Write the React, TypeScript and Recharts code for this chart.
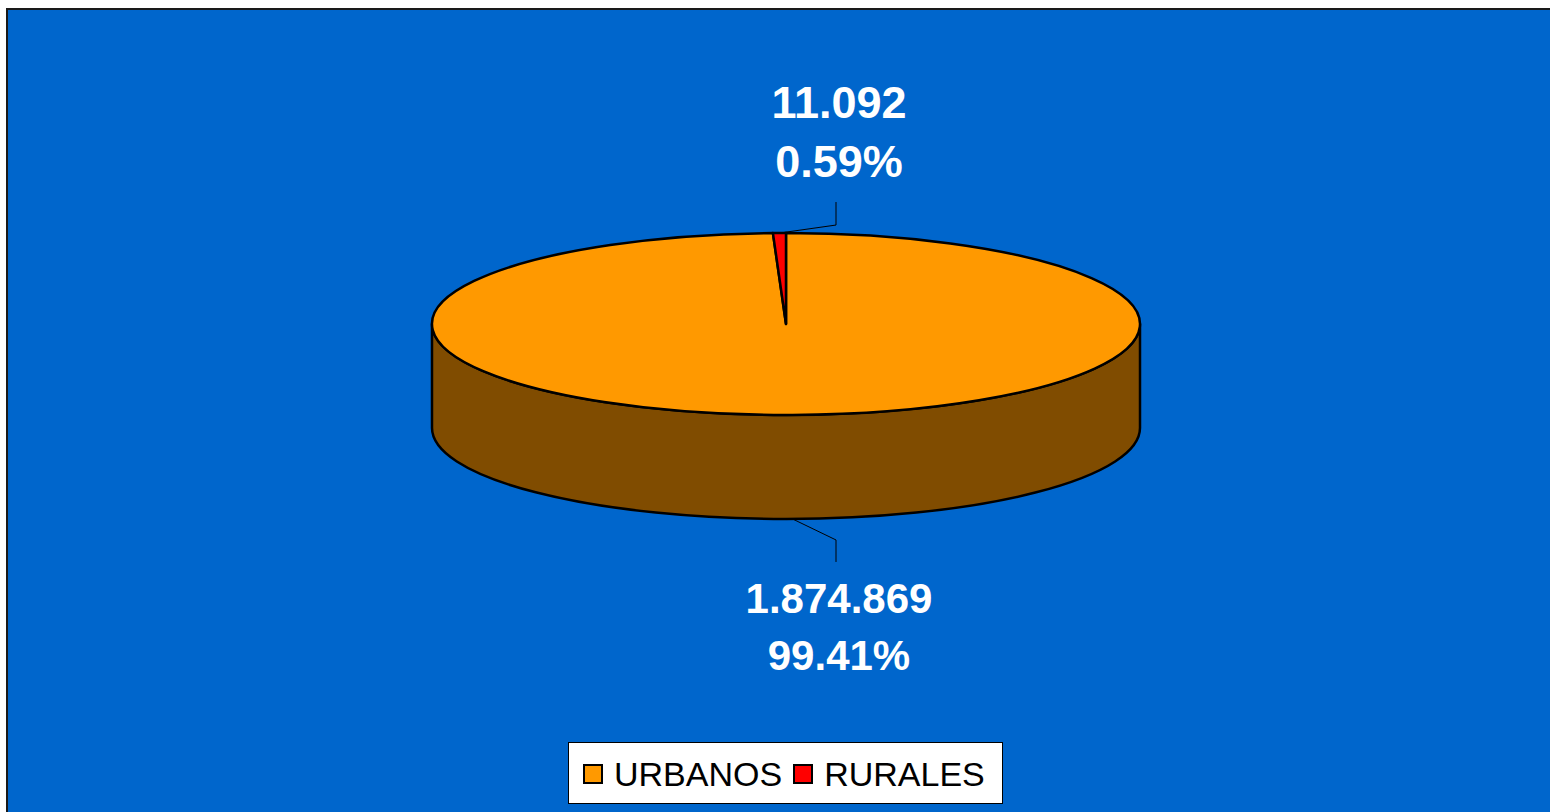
import { PieChart, Pie, Legend } from "recharts"

// ---------------------------------------------------------------------------
// Data
// ---------------------------------------------------------------------------

const categories = ["URBANOS", "RURALES"]
const values = [1874869, 11092]
const colors = ["#FF9900", "#FF0000"]
const sideColors = ["#804C00", "#800000"]

const data = categories.map((name, i) => ({ name, value: values[i] }))
const total = values.reduce((a, b) => a + b, 0)

// ---------------------------------------------------------------------------
// Layout
// ---------------------------------------------------------------------------

const W = 1544
const H = 802
const CX = 778
const CY = 314
const RADIUS = 354
const TILT = 0.257 // vertical squash of the pie top
const DEPTH = 104 // height of the pie wall
const FONT = '"Liberation Sans", Arial, sans-serif'
const RAD = Math.PI / 180

// ---------------------------------------------------------------------------
// Helpers
// ---------------------------------------------------------------------------

function fmt(n: number) {
  return String(n).replace(/\B(?=(\d{3})+(?!\d))/g, ".")
}

function pt(cx: number, cy: number, rx: number, ry: number, angle: number) {
  return { x: cx + rx * Math.cos(-angle * RAD), y: cy + ry * Math.sin(-angle * RAD) }
}

function topPath(cx: number, cy: number, rx: number, ry: number, a0: number, a1: number) {
  const p0 = pt(cx, cy, rx, ry, a0)
  const p1 = pt(cx, cy, rx, ry, a1)
  const large = Math.abs(a1 - a0) > 180 ? 1 : 0
  const sweep = a1 < a0 ? 1 : 0
  return `M${cx},${cy} L${p0.x},${p0.y} A${rx},${ry} 0 ${large} ${sweep} ${p1.x},${p1.y} Z`
}

// parts of the slice that face the viewer (lower half of the ellipse)
function frontRanges(a0: number, a1: number) {
  const lo = Math.min(a0, a1)
  const hi = Math.max(a0, a1)
  const out: [number, number][] = []
  for (let k = -2; k <= 2; k++) {
    const s = Math.max(lo, -180 + 360 * k)
    const e = Math.min(hi, 360 * k)
    if (e > s) out.push([s, e])
  }
  return out
}

function sidePath(cx: number, cy: number, rx: number, ry: number, s: number, e: number) {
  const t0 = pt(cx, cy, rx, ry, e)
  const t1 = pt(cx, cy, rx, ry, s)
  const b0 = pt(cx, cy + DEPTH, rx, ry, s)
  const b1 = pt(cx, cy + DEPTH, rx, ry, e)
  return `M${t0.x},${t0.y} A${rx},${ry} 0 0 1 ${t1.x},${t1.y} L${b0.x},${b0.y} A${rx},${ry} 0 0 0 ${b1.x},${b1.y} Z`
}

// ---------------------------------------------------------------------------
// Slice + label drawing (angles come from the Pie layout)
// ---------------------------------------------------------------------------

function renderSlice(props: any) {
  const { cx, cy, outerRadius, startAngle, endAngle, midAngle, index, value } = props
  const rx = outerRadius
  const ry = outerRadius * TILT
  const sides = frontRanges(startAngle, endAngle)

  const front = Math.sin(-midAngle * RAD) > 0
  const a = pt(cx, cy + (front ? DEPTH : 0), rx, ry, midAngle)
  const elbowX = cx + 50
  const elbowY = front ? a.y + 21 : a.y - 8
  const endY = front ? elbowY + 22 : elbowY - 23
  const textX = elbowX + 3
  const pct = ((value / total) * 100).toFixed(2) + "%"
  const fs = front ? 42 : 45
  const y1 = front ? endY + 51 : endY - 84
  const y2 = front ? endY + 108 : endY - 25

  return (
    <g key={`slice-${index}`}>
      {sides.map(([s, e], j) => (
        <path
          key={j}
          d={sidePath(cx, cy, rx, ry, s, e)}
          fill={sideColors[index]}
          stroke="#000"
          strokeWidth={2.5}
          strokeLinejoin="round"
        />
      ))}
      <path
        d={topPath(cx, cy, rx, ry, startAngle, endAngle)}
        fill={colors[index]}
        stroke="#000"
        strokeWidth={2.5}
        strokeLinejoin="round"
      />
      <polyline
        points={`${a.x},${a.y} ${elbowX},${elbowY} ${elbowX},${endY}`}
        fill="none"
        stroke="#000"
        strokeWidth={1}
      />
      <text x={textX} y={y1} textAnchor="middle" fill="#fff" fontFamily={FONT} fontWeight="bold" fontSize={fs}>
        {fmt(value)}
      </text>
      <text x={textX} y={y2} textAnchor="middle" fill="#fff" fontFamily={FONT} fontWeight="bold" fontSize={fs}>
        {pct}
      </text>
    </g>
  )
}

function LegendBox({ payload }: { payload?: Array<{ value: string }> }) {
  const names = payload && payload.length ? payload.map((p) => p.value) : categories.slice()
  names.sort((a, b) => categories.indexOf(a) - categories.indexOf(b))
  return (
    <div
      style={{
        boxSizing: "border-box",
        width: 435,
        height: 62,
        background: "#fff",
        border: "1px solid #000",
        display: "flex",
        alignItems: "center",
        paddingLeft: 14,
        paddingTop: 2,
        fontFamily: FONT,
        fontSize: 34,
        color: "#000",
        lineHeight: 1,
      }}
    >
      {names.map((name) => (
        <span key={name} style={{ display: "flex", alignItems: "center", marginRight: 11 }}>
          <span
            style={{
              display: "inline-block",
              boxSizing: "border-box",
              width: 20,
              height: 20,
              background: colors[categories.indexOf(name)],
              border: "2px solid #000",
              marginRight: 11,
            }}
          />
          {name}
        </span>
      ))}
    </div>
  )
}

export default function App() {
  return (
    <div
      style={{
        position: "absolute",
        left: 6,
        top: 8,
        width: W,
        height: H,
        background: "#0066CC",
        borderTop: "2px solid #1a1a1a",
        borderLeft: "2px solid #1a1a1a",
      }}
    >
      <PieChart width={W} height={H} margin={{ top: 0, right: 0, bottom: 0, left: 0 }}>
        <Pie
          data={data}
          dataKey="value"
          nameKey="name"
          cx={CX}
          cy={CY}
          outerRadius={RADIUS}
          startAngle={90}
          endAngle={-270}
          fill="none"
          stroke="none"
          labelLine={false}
          label={renderSlice}
          isAnimationActive={false}
        />
        <Legend
          content={<LegendBox />}
          wrapperStyle={{ position: "absolute", left: 560, top: 732, width: 435, height: 62 }}
        />
      </PieChart>
    </div>
  )
}
